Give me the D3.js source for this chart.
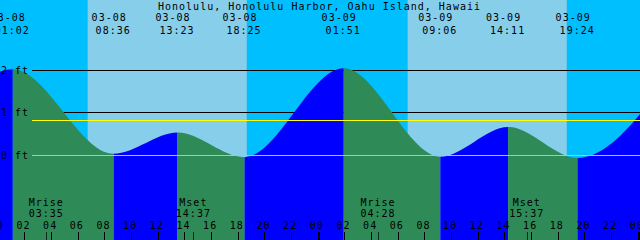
<!DOCTYPE html>
<html>
<head>
<meta charset="utf-8">
<script src="https://cdn.jsdelivr.net/npm/d3@7"></script>
<style>
  body { margin: 0; background: #fff; }
  svg { display: block; }
  text { font-family: "DejaVu Sans Mono", monospace; font-size: 10px; letter-spacing: 1px; fill: #000; }
</style>
</head>
<body>
<script>
var title = "Honolulu, Honolulu Harbor, Oahu Island, Hawaii";

// high / low tides (first and last one fall just outside the picture)
var tideDates = ["03-07", "03-08", "03-08", "03-08", "03-08", "03-09", "03-09", "03-09", "03-09", "03-10"];
var tideTimes = ["18:05", "01:02", "08:36", "13:23", "18:25", "01:51", "09:06", "14:11", "19:24", "02:40"];
var tideFeet  = [-0.05, 2.02, 0.03, 0.53, -0.05, 2.04, -0.04, 0.66, -0.07, 2.05];

var sunDates = ["03-08", "03-08", "03-09", "03-09"];
var sunTimes = ["06:39", "18:35", "06:39", "18:35"];

var moonNames = ["Mrise", "Mset", "Mrise", "Mset"];
var moonDates = ["03-08", "03-08", "03-09", "03-09"];
var moonTimes = ["03:35", "14:37", "04:28", "15:37"];

var depthLines = [1, 2];
var depthLabels = [0, 1, 2];
var datum = 0;
var msl = 0.82;
var hourTicks = d3.range(0, 50, 2);

var width = 640, height = 240;

// hours since 03-08 00:00
function hrs(date, time) {
  var day = +date.slice(3) - 8;
  var p = time.split(":");
  return day * 24 + (+p[0]) + (+p[1]) / 60;
}

var tides = tideDates.map((d, i) => ({date: d, time: tideTimes[i], h: hrs(d, tideTimes[i]), ft: tideFeet[i]}));
var suns = sunDates.map((d, i) => hrs(d, sunTimes[i]));
var moons = moonDates.map((d, i) => ({name: moonNames[i], time: moonTimes[i], h: hrs(d, moonTimes[i])}));

var x = d3.scaleLinear().domain([0.075, 48.075]).range([0, width]);
var y = d3.scaleLinear().domain([0, 2]).range([155, 70]);

var svg = d3.select("body").append("svg")
  .attr("width", width)
  .attr("height", height);

// night / day background
svg.append("rect")
  .attr("width", width)
  .attr("height", height)
  .style("fill", "#00bfff");

svg.selectAll("rect.day")
  .data(d3.range(0, suns.length, 2))
  .enter()
  .append("rect")
  .attr("class", "day")
  .attr("x", i => x(suns[i]))
  .attr("width", i => x(suns[i + 1]) - x(suns[i]))
  .attr("y", 0)
  .attr("height", height)
  .style("fill", "#87ceeb");

// depth lines sit behind the water
svg.selectAll("line.depth")
  .data(depthLines)
  .enter()
  .append("line")
  .attr("class", "depth")
  .attr("x1", 32)
  .attr("x2", width)
  .attr("y1", d => Math.floor(y(d)) + 0.5)
  .attr("y2", d => Math.floor(y(d)) + 0.5)
  .style("stroke", "#000")
  .style("shape-rendering", "crispEdges");

// water, blue when rising and green when falling
var area = d3.area()
  .x(d => x(d.h))
  .y0(height)
  .y1(d => y(d.ft))
  .curve(d3.curveMonotoneX);

var segs = d3.range(tides.length - 1);

svg.append("defs").selectAll("clipPath")
  .data(segs)
  .enter()
  .append("clipPath")
  .attr("id", i => "seg" + i)
  .append("rect")
  .attr("x", i => x(tides[i].h))
  .attr("width", i => x(tides[i + 1].h) - x(tides[i].h))
  .attr("y", 0)
  .attr("height", height);

svg.selectAll("path.water")
  .data(segs)
  .enter()
  .append("path")
  .attr("class", "water")
  .attr("clip-path", i => `url(#seg${i})`)
  .attr("d", area(tides))
  .style("fill", i => tides[i + 1].ft > tides[i].ft ? "#0000ff" : "#2e8b57");

// datum and mean sea level on top
svg.append("line")
  .attr("x1", 32).attr("x2", width)
  .attr("y1", Math.floor(y(datum)) + 0.5)
  .attr("y2", Math.floor(y(datum)) + 0.5)
  .style("stroke", "#87ceeb")
  .style("shape-rendering", "crispEdges");

svg.append("line")
  .attr("x1", 32).attr("x2", width)
  .attr("y1", Math.floor(y(msl)) + 0.5)
  .attr("y2", Math.floor(y(msl)) + 0.5)
  .style("stroke", "#ffff00")
  .style("shape-rendering", "crispEdges");

svg.selectAll("text.depthLabel")
  .data(depthLabels)
  .enter()
  .append("text")
  .attr("class", "depthLabel")
  .attr("x", 1)
  .attr("y", d => Math.floor(y(d)) + 3.8)
  .text(d => d + " ft");

// title
svg.append("text")
  .attr("x", width / 2 - 0.5)
  .attr("y", 9.5)
  .style("text-anchor", "middle")
  .text(title);

// tide event labels at the top
var shown = tides.filter(d => d.h > 0 && d.h < 48);

svg.selectAll("text.evDate")
  .data(shown)
  .enter()
  .append("text")
  .attr("class", "evDate")
  .attr("x", d => x(d.h) - 4.5)
  .attr("y", 20.6)
  .style("text-anchor", "middle")
  .text(d => d.date);

svg.selectAll("text.evTime")
  .data(shown)
  .enter()
  .append("text")
  .attr("class", "evTime")
  .attr("x", d => x(d.h) - 0.5)
  .attr("y", 34.2)
  .style("text-anchor", "middle")
  .text(d => d.time);

// moon rise / set
svg.selectAll("text.moonName")
  .data(moons)
  .enter()
  .append("text")
  .attr("class", "moonName")
  .attr("x", d => x(d.h) - 0.5)
  .attr("y", 205.6)
  .style("text-anchor", "middle")
  .text(d => d.name);

svg.selectAll("text.moonTime")
  .data(moons)
  .enter()
  .append("text")
  .attr("class", "moonTime")
  .attr("x", d => x(d.h) - 0.5)
  .attr("y", 217.3)
  .style("text-anchor", "middle")
  .text(d => d.time);

svg.selectAll("line.moonTick")
  .data(moons)
  .enter()
  .append("line")
  .attr("class", "moonTick")
  .attr("x1", d => Math.floor(x(d.h)) + 0.5)
  .attr("x2", d => Math.floor(x(d.h)) + 0.5)
  .attr("y1", 232)
  .attr("y2", height)
  .style("stroke", "#000")
  .style("opacity", 0.7)
  .style("shape-rendering", "crispEdges");

// hour axis
svg.selectAll("text.hour")
  .data(hourTicks)
  .enter()
  .append("text")
  .attr("class", "hour")
  .attr("x", d => x(d) - 2.2)
  .attr("y", 229.3)
  .style("text-anchor", "middle")
  .text(d => d3.format("02d")(d % 24));

svg.selectAll("line.hourTick")
  .data(hourTicks)
  .enter()
  .append("line")
  .attr("class", "hourTick")
  .attr("x1", d => d % 24 == 0 ? Math.floor(x(d) - 1) + 1 : Math.floor(x(d) - 1) + 0.5)
  .attr("x2", d => d % 24 == 0 ? Math.floor(x(d) - 1) + 1 : Math.floor(x(d) - 1) + 0.5)
  .attr("y1", 232)
  .attr("y2", height)
  .style("stroke", "#000")
  .style("stroke-width", d => d % 24 == 0 ? 2 : 1)
  .style("shape-rendering", "crispEdges");
</script>
</body>
</html>
